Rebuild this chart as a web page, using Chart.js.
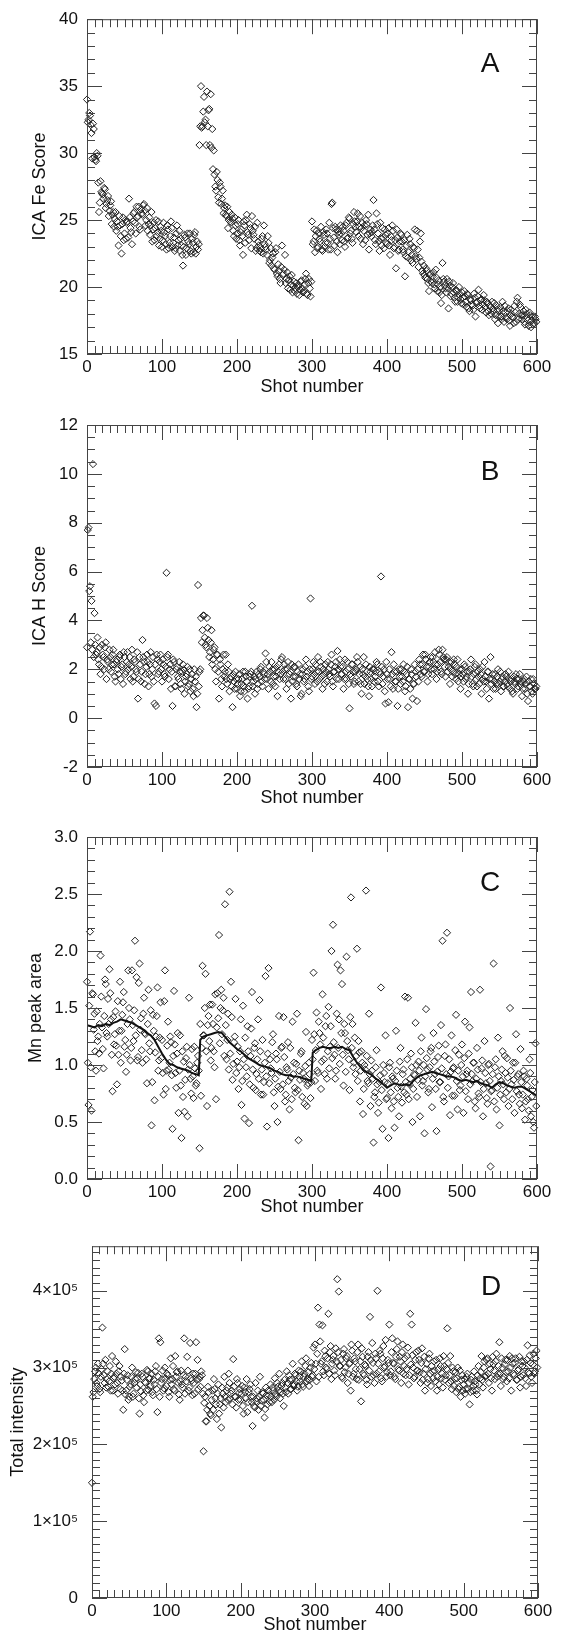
<!DOCTYPE html>
<html>
<head>
<meta charset="utf-8">
<script src="https://cdn.jsdelivr.net/npm/chart.js@4"></script>
<style>
  body { margin: 0; background: #fff; width: 563px; height: 1638px; position: relative; }
  canvas { position: absolute; left: 0; }
</style>
</head>
<body>
<canvas id="panelA" width="563" height="405" style="top:0px"></canvas>
<canvas id="panelB" width="563" height="410" style="top:405px"></canvas>
<canvas id="panelC" width="563" height="407" style="top:815px"></canvas>
<canvas id="panelD" width="563" height="416" style="top:1222px"></canvas>
<script>
// shot numbers: even shots and odd shots
const shotsEven = Array.from({ length: 300 }, (_, i) => i * 2);
const shotsOdd = Array.from({ length: 300 }, (_, i) => i * 2 + 1);
const shotTicks = [0, 100, 200, 300, 400, 500, 600];

// A: ICA Fe score
const feScore = [
  34.0, 32.5, 32.8, 31.5, 32.2, 29.7, 29.4, 29.8, 25.6, 27.9,
  27.0, 26.6, 27.3, 26.2, 26.8, 25.7, 26.4, 25.4, 24.5, 25.6,
  24.9, 23.1, 24.6, 22.5, 25.2, 24.0, 23.6, 24.9, 26.6, 24.4,
  23.2, 25.5, 24.8, 26.0, 25.3, 24.5, 25.8, 25.4, 26.2, 24.6,
  25.9, 24.7, 23.9, 25.6, 24.3, 23.5, 25.0, 24.1, 23.1, 24.5,
  23.0, 24.8, 23.8, 22.8, 24.3, 23.3, 24.9, 23.0, 23.7, 22.9,
  24.6, 23.5, 22.7, 23.1, 21.6, 23.9, 22.4, 24.0, 23.2, 22.7,
  23.6, 22.6, 24.1, 23.0, 22.8, 30.6, 35.0, 32.0, 34.2, 32.5,
  34.6, 33.2, 30.6, 30.4, 28.8, 28.4, 27.2, 28.0, 26.3, 27.5,
  26.6, 25.5, 26.1, 25.3, 24.4, 25.6, 24.8, 25.1, 23.8, 24.6,
  24.0, 25.0, 23.1, 24.3, 22.4, 24.6, 25.0, 24.1, 23.5, 24.4,
  25.3, 23.9, 24.5, 22.9, 23.4, 22.7, 22.6, 23.8, 24.6, 23.0,
  22.4, 23.3, 22.0, 21.6, 22.5, 21.3, 22.9, 20.8, 21.2, 20.3,
  23.1, 21.0, 22.4, 20.6, 19.9, 20.8, 20.2, 19.6, 20.4, 19.9,
  19.5, 20.1, 19.8, 20.5, 19.6, 20.2, 21.0, 19.4, 20.6, 19.3,
  24.9, 23.4, 22.6, 24.2, 23.0, 23.6, 24.5, 22.7, 23.9, 23.3,
  24.0, 22.8, 23.6, 26.2, 24.4, 23.1, 24.3, 22.6, 23.9, 24.6,
  23.5, 24.2, 23.0, 24.8, 23.7, 25.1, 24.2, 23.3, 25.6, 24.5,
  24.9, 23.8, 25.3, 24.4, 23.2, 24.6, 25.0, 23.9, 22.8, 24.3,
  24.1, 26.5, 23.5, 25.5, 24.0, 22.7, 23.6, 24.4, 22.9, 23.9,
  23.2, 24.4, 22.4, 23.5, 24.2, 23.0, 21.4, 23.7, 22.8, 24.0,
  23.4, 22.6, 20.8, 23.1, 22.2, 23.6, 22.0, 21.8, 22.9, 22.3,
  24.2, 21.5, 23.4, 21.9, 21.0, 20.9, 21.4, 20.6, 19.7, 21.0,
  20.3, 21.1, 19.9, 20.7, 20.2, 19.6, 18.8, 21.8, 20.4, 19.9,
  20.6, 18.4, 20.1, 19.5, 20.3, 19.2, 19.8, 18.9, 20.0, 19.1,
  19.6, 18.7, 19.3, 18.5, 19.4, 18.2, 19.0, 18.6, 19.5, 17.8,
  18.9, 19.8, 18.4, 19.1, 18.7, 19.0, 18.1, 18.8, 17.9, 18.5,
  18.9, 18.2, 17.6, 18.6, 17.3, 18.3, 17.8, 18.9, 17.4, 18.1,
  17.6, 18.4, 17.1, 18.0, 17.7, 18.6, 17.4, 19.2, 18.0, 18.5,
  17.6, 18.2, 17.2, 18.0, 17.5, 18.1, 17.0, 17.8, 17.3, 17.6
];
const feScoreOdd = [
  32.3, 33.0, 32.1, 29.6, 31.8, 29.5, 30.0, 27.8, 26.3, 27.1,
  26.9, 27.4, 25.9, 26.5, 25.3, 26.1, 24.7, 25.6, 25.1, 24.2,
  24.5, 25.3, 23.8, 24.7, 23.5, 25.0, 24.8, 23.7, 25.2, 24.1,
  24.9, 25.6, 24.0, 25.2, 26.0, 24.3, 25.5, 26.1, 25.7, 25.0,
  24.2, 25.2, 24.6, 23.4, 24.8, 24.4, 23.8, 24.9, 23.6, 24.2,
  23.5, 24.1, 23.2, 24.6, 22.9, 23.8, 24.4, 23.3, 22.7, 24.0,
  23.1, 24.2, 23.6, 22.4, 23.0, 23.7, 22.9, 23.4, 24.0, 22.5,
  23.3, 23.9, 22.5, 23.4, 23.2, 32.0, 31.9, 33.1, 32.3, 30.6,
  32.0, 33.3, 34.4, 31.8, 30.2, 27.5, 28.6, 26.7, 27.8, 26.2,
  27.2, 25.9, 25.4, 26.0, 25.0, 24.9, 25.4, 24.2, 25.2, 23.6,
  24.7, 23.5, 24.1, 23.8, 24.9, 23.3, 25.4, 23.9, 24.7, 22.9,
  24.2, 23.6, 22.7, 24.8, 23.1, 22.9, 23.6, 22.5, 23.2, 22.8,
  23.8, 21.8, 22.9, 22.2, 21.4, 22.6, 21.0, 21.7, 20.6, 21.5,
  20.9, 21.3, 20.3, 21.1, 20.5, 19.8, 20.9, 20.1, 19.7, 20.3,
  20.0, 19.4, 20.4, 19.9, 19.7, 20.6, 19.5, 20.3, 19.9, 20.4,
  23.2, 24.3, 23.8, 22.9, 24.0, 23.4, 22.8, 24.1, 23.0, 24.3,
  23.3, 24.8, 22.8, 26.3, 23.7, 24.5, 23.4, 24.1, 23.2, 24.0,
  24.5, 23.4, 24.6, 23.6, 25.2, 24.0, 23.6, 24.7, 24.9, 24.1,
  25.5, 24.5, 23.6, 24.8, 24.2, 23.5, 24.7, 25.4, 24.0, 23.8,
  24.6, 24.3, 23.2, 24.7, 23.4, 24.8, 23.1, 23.7, 24.3, 23.3,
  24.0, 23.1, 23.8, 24.6, 22.9, 23.5, 24.3, 22.7, 23.4, 23.9,
  22.8, 23.5, 22.3, 23.9, 22.6, 23.2, 22.4, 23.0, 24.3, 22.1,
  22.8, 22.2, 24.0, 21.2, 21.6, 20.7, 21.2, 20.3, 20.9, 20.4,
  20.8, 20.2, 21.3, 19.7, 20.5, 20.0, 19.4, 20.6, 20.1, 19.6,
  19.9, 20.4, 19.3, 20.0, 19.6, 18.9, 19.7, 19.2, 19.4, 18.8,
  19.2, 19.7, 18.9, 19.5, 18.4, 19.1, 18.7, 18.3, 19.2, 18.8,
  19.3, 18.6, 19.0, 18.3, 19.4, 18.5, 18.9, 18.2, 18.6, 18.0,
  18.4, 18.8, 17.9, 18.3, 17.8, 18.5, 17.6, 18.2, 18.6, 17.7,
  18.2, 17.5, 18.3, 17.8, 17.3, 18.1, 18.9, 17.6, 18.7, 17.9,
  17.9, 17.4, 18.3, 17.7, 17.1, 17.9, 17.5, 17.2, 17.8, 17.4
];

// B: ICA H score
const hScore = [
  2.9, 7.8, 5.4, 4.8, 10.4, 4.3, 2.6, 3.3, 2.2, 1.8,
  3.0, 2.5, 2.9, 1.6, 2.3, 2.8, 1.9, 2.6, 2.2, 1.5,
  2.4, 1.8, 2.6, 2.1, 1.4, 2.5, 1.9, 2.7, 2.2, 1.6,
  2.8, 1.7, 2.3, 1.9, 0.8, 2.5, 1.5, 3.2, 2.3, 1.8,
  2.6, 1.3, 2.2, 1.7, 2.5, 0.6, 0.5, 2.4, 1.9, 2.6,
  1.5, 2.2, 1.7, 5.95, 2.6, 2.0, 1.2, 0.5, 2.3, 1.3,
  2.1, 1.6, 1.9, 1.2, 2.2, 1.0, 1.7, 2.1, 1.4, 1.1,
  1.8, 0.9, 1.5, 0.45, 5.45, 1.9, 4.1, 3.6, 4.2, 3.0,
  4.1, 3.2, 2.7, 3.6, 2.4, 2.9, 1.5, 2.6, 0.8, 2.2,
  1.3, 2.6, 1.9, 1.6, 2.2, 1.1, 1.7, 0.45, 1.5, 1.9,
  1.2, 1.6, 0.9, 1.4, 1.9, 1.1, 1.7, 0.8, 1.3, 1.8,
  4.6, 1.5, 1.0, 1.9, 1.4, 1.7, 2.1, 1.3, 1.8, 2.65,
  1.6, 1.2, 1.9, 2.3, 1.4, 2.0, 1.7, 0.9, 2.2, 1.8,
  2.5, 1.6, 2.0, 1.2, 2.3, 1.8, 0.8, 1.5, 2.1, 1.7,
  1.3, 2.2, 1.8, 1.0, 2.0, 1.6, 2.4, 1.9, 1.1, 4.9,
  1.7, 2.3, 1.4, 1.9, 2.5, 1.6, 2.1, 1.2, 1.8, 2.2,
  1.5, 2.0, 1.7, 2.6, 1.3, 1.9, 2.3, 2.75, 1.6, 2.1,
  1.8, 1.2, 2.4, 1.6, 2.0, 0.4, 1.7, 2.2, 1.4, 1.9,
  2.5, 1.5, 2.1, 1.0, 1.8, 1.4, 2.2, 1.6, 0.9, 1.9,
  1.3, 2.0, 1.7, 2.3, 1.5, 1.9, 5.8, 1.4, 2.0, 0.6,
  1.8, 0.65, 1.6, 2.7, 1.2, 1.9, 1.5, 0.5, 2.0, 1.4,
  1.7, 2.2, 1.1, 1.8, 0.45, 1.6, 2.0, 0.8, 1.4, 1.9,
  0.7, 1.5, 2.2, 1.7, 2.6, 1.9, 2.4, 1.5, 2.1, 2.5,
  1.8, 2.3, 2.7, 1.6, 2.2, 2.6, 1.9, 2.8, 2.4, 1.7,
  2.5, 2.1, 1.4, 2.3, 1.9, 2.2, 1.6, 2.4, 1.8, 1.2,
  2.0, 1.5, 2.1, 1.7, 1.0, 1.9, 2.4, 1.4, 1.8, 2.2,
  1.3, 1.7, 2.0, 1.0, 1.6, 2.3, 1.5, 1.9, 0.8, 2.5,
  1.6, 1.2, 1.8, 1.4, 2.0, 1.5, 1.1, 1.7, 1.3, 1.8,
  1.4, 1.9, 1.2, 1.6, 1.0, 1.5, 1.8, 1.2, 1.6, 1.4,
  0.9, 1.5, 1.2, 1.7, 0.7, 1.3, 1.6, 1.0, 1.4, 1.2
];
const hScoreOdd = [
  7.7, 5.2, 3.1, 2.8, 2.5, 3.0, 2.7, 2.4, 2.9, 2.1,
  2.6, 2.0, 3.1, 2.4, 2.0, 2.5, 2.2, 2.8, 1.7, 2.3,
  2.0, 2.5, 1.6, 2.2, 2.7, 1.8, 2.3, 2.0, 2.5, 2.1,
  1.5, 2.4, 2.0, 2.7, 1.6, 2.2, 1.9, 2.5, 1.4, 2.1,
  2.3, 1.8, 2.7, 2.0, 1.5, 2.2, 2.6, 1.8, 2.3, 2.0,
  2.4, 1.8, 2.1, 2.5, 1.6, 2.2, 1.9, 2.4, 1.3, 2.0,
  1.7, 2.3, 1.4, 1.9, 2.0, 1.5, 1.8, 1.3, 2.0, 1.6,
  1.2, 2.0, 1.7, 1.0, 1.3, 2.0, 3.1, 4.2, 3.3, 2.9,
  3.7, 2.5, 3.1, 2.2, 2.8, 2.0, 2.6, 1.9, 2.4, 1.6,
  2.0, 1.7, 2.6, 1.4, 1.9, 1.6, 1.3, 1.8, 1.2, 1.6,
  1.4, 1.8, 1.1, 1.6, 1.3, 1.9, 1.5, 1.2, 1.7, 1.9,
  1.3, 1.7, 1.6, 1.2, 1.8, 2.0, 1.5, 1.9, 1.6, 2.3,
  1.8, 2.1, 1.5, 2.0, 1.7, 1.3, 2.1, 1.9, 1.6, 2.4,
  1.9, 2.2, 1.6, 2.0, 1.4, 1.9, 2.2, 1.7, 2.1, 1.4,
  1.9, 1.6, 0.9, 1.8, 1.5, 2.1, 1.7, 1.3, 2.0, 1.6,
  2.0, 1.8, 2.2, 1.5, 1.9, 2.3, 1.7, 2.0, 1.4, 1.9,
  2.3, 1.8, 2.2, 1.5, 1.9, 2.1, 1.6, 2.0, 2.4, 1.8,
  2.1, 1.6, 1.9, 2.3, 1.4, 1.8, 2.2, 1.9, 1.5, 2.0,
  2.3, 1.8, 1.4, 2.0, 2.5, 1.7, 1.9, 1.3, 2.1, 1.6,
  2.0, 1.5, 1.9, 2.2, 1.3, 1.8, 2.1, 1.7, 1.1, 2.3,
  1.6, 2.0, 1.3, 1.8, 2.2, 1.5, 1.9, 1.2, 1.7, 2.0,
  1.5, 1.9, 1.3, 2.1, 1.6, 1.2, 1.8, 1.4, 2.2, 1.7,
  2.0, 2.4, 1.8, 2.2, 1.9, 2.6, 2.1, 1.8, 2.3, 2.0,
  2.5, 2.0, 2.2, 1.9, 2.8, 2.3, 1.8, 2.5, 2.1, 2.4,
  1.9, 2.3, 2.0, 1.7, 2.4, 1.8, 2.1, 1.5, 2.0, 1.7,
  1.8, 2.2, 1.6, 1.9, 1.4, 2.0, 1.7, 1.3, 2.1, 1.6,
  1.9, 1.4, 1.8, 2.1, 1.5, 1.7, 1.2, 1.9, 1.6, 1.4,
  1.8, 1.5, 1.2, 1.7, 1.4, 1.9, 1.6, 1.3, 1.5, 1.7,
  1.3, 1.6, 1.5, 1.1, 1.7, 1.4, 1.6, 1.3, 1.8, 1.5,
  1.2, 1.6, 1.4, 1.0, 1.5, 1.3, 1.1, 1.6, 1.2, 1.3
];

// C: Mn peak area, plus its running mean
const mnArea = [
  1.73, 0.65, 2.17, 0.60, 1.62, 1.45, 0.95, 1.21, 1.10, 1.96,
  1.33, 0.97, 1.75, 1.28, 1.58, 1.84, 1.40, 0.77, 1.18, 1.47,
  0.83, 1.09, 1.73, 1.30, 1.55, 1.16, 0.94, 1.36, 1.50, 1.04,
  1.83, 1.21, 2.09, 1.77, 1.07, 1.89, 1.41, 1.02, 1.59, 1.27,
  0.84, 1.66, 1.12, 0.47, 1.44, 0.69, 1.25, 1.68, 1.04, 1.55,
  1.22, 0.74, 1.83, 0.95, 1.38, 1.02, 1.20, 0.44, 1.65, 0.93,
  1.10, 0.58, 1.26, 0.36, 0.72, 0.59, 1.06, 0.55, 1.59, 0.88,
  1.14, 0.71, 0.97, 0.84, 1.08, 0.27, 0.73, 1.87, 1.26, 1.80,
  0.64, 1.43, 1.53, 1.15, 1.36, 0.98, 0.70, 1.63, 2.14, 1.50,
  1.27, 1.59, 2.41, 1.05, 1.45, 2.52, 1.73, 0.87, 1.20, 1.58,
  1.03, 0.79, 1.12, 0.65, 1.52, 0.53, 0.98, 1.34, 0.49, 1.08,
  1.64, 0.80, 1.19, 0.92, 1.40, 1.57, 0.74, 1.22, 0.85, 1.78,
  0.46, 1.85, 1.05, 0.93, 1.27, 0.64, 1.10, 0.50, 1.43, 0.79,
  1.16, 1.42, 0.68, 0.98, 1.20, 0.61, 0.89, 1.38, 1.02, 0.76,
  1.45, 0.34, 0.87, 1.12, 0.93, 0.66, 1.29, 0.82, 1.02, 0.71,
  1.22, 1.81, 0.86, 1.46, 0.93, 1.28, 0.79, 1.62, 1.05, 1.34,
  0.88, 1.51, 1.16, 2.00, 2.23, 1.09, 0.95, 1.88, 1.40, 1.83,
  1.71, 0.82, 1.28, 1.95, 1.13, 0.78, 2.47, 1.36, 1.02, 0.92,
  2.02, 1.21, 0.68, 1.12, 0.57, 1.00, 2.53, 0.86, 1.45, 0.64,
  0.95, 0.32, 0.76, 1.13, 0.58, 0.85, 1.68, 0.44, 0.93, 1.26,
  0.71, 0.36, 1.02, 0.62, 0.88, 0.45, 1.30, 0.80, 0.55, 1.15,
  0.67, 0.96, 1.60, 0.74, 1.59, 0.83, 1.10, 0.50, 0.92, 1.37,
  0.72, 1.03, 0.55, 1.24, 0.86, 0.40, 1.49, 0.96, 0.79, 1.12,
  0.63, 1.28, 0.92, 0.42, 1.07, 0.85, 1.35, 2.09, 0.68, 1.18,
  2.16, 0.90, 0.56, 1.26, 0.97, 0.73, 1.44, 0.61, 1.09, 0.82,
  1.18, 0.58, 1.38, 0.92, 0.70, 1.33, 1.64, 0.86, 1.02, 0.62,
  1.15, 0.75, 1.66, 0.97, 0.55, 1.21, 0.84, 0.66, 1.01, 0.11,
  0.78, 1.89, 0.98, 0.61, 1.24, 0.47, 0.86, 1.12, 0.70, 0.93,
  1.06, 0.64, 1.50, 0.83, 1.02, 0.58, 1.27, 0.90, 0.74, 1.14,
  0.62, 0.95, 0.52, 0.88, 0.70, 1.05, 0.55, 0.78, 0.45, 1.19
];
const mnAreaOdd = [
  1.02, 1.52, 0.98, 1.63, 1.31, 1.12, 1.47, 1.25, 1.36, 1.60,
  1.14, 1.43, 1.71, 1.25, 1.36, 1.63, 1.09, 1.42, 1.27, 1.17,
  1.56, 1.30, 1.02, 1.44, 1.64, 1.22, 1.09, 1.83, 1.40, 1.15,
  1.35, 1.48, 1.26, 1.04, 1.72, 1.31, 1.13, 1.45, 1.28, 1.05,
  1.36, 1.19, 1.48, 0.85, 1.30, 1.11, 1.43, 0.95, 1.24, 1.06,
  0.93, 1.56, 0.79, 1.17, 0.96, 1.25, 0.91, 1.08, 1.18, 0.80,
  1.28, 0.95, 0.82, 1.12, 1.03, 0.87, 1.16, 0.96, 1.00, 0.75,
  0.90, 1.16, 0.82, 1.02, 0.95, 1.36, 1.15, 1.26, 1.50, 1.12,
  1.35, 1.21, 1.04, 1.53, 1.12, 1.62, 1.33, 1.41, 1.19, 1.66,
  1.48, 1.08, 1.35, 1.22, 0.96, 1.10, 1.42, 1.01, 1.25, 0.93,
  1.16, 0.98, 1.40, 0.86, 1.05, 1.24, 0.90, 1.12, 0.83, 1.32,
  0.96, 1.15, 0.78, 1.05, 0.88, 1.12, 0.96, 0.74, 1.02, 0.90,
  1.10, 0.84, 0.97, 1.20, 0.76, 0.88, 1.05, 0.81, 0.94, 1.15,
  0.83, 1.07, 0.74, 0.96, 0.86, 1.15, 0.70, 0.92, 0.80, 1.01,
  0.78, 0.95, 1.10, 0.72, 0.88, 0.99, 0.64, 0.84, 0.92, 0.85,
  1.05, 1.27, 1.13, 0.95, 1.38, 1.18, 1.03, 1.24, 0.92, 1.43,
  1.12, 0.97, 1.34, 1.06, 1.20, 0.88, 1.45, 1.15, 1.01, 1.28,
  1.09, 1.36, 0.94, 1.21, 1.05, 1.42, 1.15, 0.98, 1.24, 1.08,
  0.86, 1.11, 0.95, 1.02, 0.79, 0.96, 1.08, 0.84, 0.92, 1.04,
  0.88, 0.72, 0.98, 0.83, 0.67, 0.91, 0.78, 1.00, 0.85, 0.70,
  0.84, 0.98, 0.76, 0.90, 0.68, 0.86, 0.95, 0.72, 1.03, 0.81,
  0.92, 0.76, 0.85, 1.05, 0.70, 0.88, 0.98, 0.79, 0.91, 1.00,
  0.87, 0.95, 1.12, 0.82, 1.00, 0.90, 1.06, 0.76, 0.98, 1.15,
  0.88, 1.03, 0.79, 0.94, 1.17, 0.85, 0.97, 0.72, 1.08, 0.92,
  0.80, 1.05, 0.94, 0.73, 0.98, 1.13, 0.86, 0.95, 0.78, 1.00,
  0.90, 1.06, 0.77, 0.95, 1.10, 0.83, 0.92, 1.02, 0.68, 0.88,
  0.96, 0.72, 0.85, 1.04, 0.79, 0.93, 0.71, 1.00, 0.86, 0.77,
  0.92, 0.68, 1.05, 0.80, 0.90, 0.74, 0.96, 0.83, 1.08, 0.76,
  0.89, 0.79, 0.95, 0.70, 0.87, 1.02, 0.77, 0.92, 0.66, 0.85,
  0.74, 0.90, 0.68, 0.82, 0.60, 0.93, 0.72, 0.50, 0.85, 0.64
];
const meanShots = [0, 5, 10, 15, 20, 25, 30, 35, 40, 45, 50, 55, 60, 65, 70, 75, 80, 85, 90, 95,
  100, 105, 110, 115, 120, 125, 130, 135, 140, 145, 149, 151, 155, 160, 165, 170, 175, 180, 185, 190, 195,
  200, 205, 210, 215, 220, 225, 230, 235, 240, 245, 250, 255, 260, 265, 270, 275, 280, 285, 290, 295, 299,
  301, 305, 310, 315, 320, 325, 330, 335, 340, 345, 350, 355, 360, 365, 370, 375, 380, 385, 390, 395,
  400, 405, 410, 415, 420, 425, 430, 435, 440, 445, 450, 455, 460, 465, 470, 475, 480, 485, 490, 495,
  500, 505, 510, 515, 520, 525, 530, 535, 540, 545, 550, 555, 560, 565, 570, 575, 580, 585, 590, 595, 600];
const mnMean = [1.35, 1.34, 1.33, 1.35, 1.34, 1.36, 1.35, 1.37, 1.38, 1.40, 1.39, 1.38, 1.37, 1.35, 1.33, 1.31, 1.28, 1.26, 1.22, 1.16,
  1.10, 1.05, 1.01, 1.00, 0.98, 0.97, 0.96, 0.95, 0.93, 0.92, 0.91, 1.22, 1.25, 1.26, 1.27, 1.28, 1.29, 1.28, 1.24, 1.20, 1.17,
  1.14, 1.12, 1.09, 1.06, 1.04, 1.02, 1.00, 0.99, 0.98, 0.97, 0.95, 0.94, 0.92, 0.91, 0.91, 0.90, 0.90, 0.89, 0.88, 0.87, 0.86,
  1.11, 1.13, 1.15, 1.16, 1.15, 1.15, 1.16, 1.15, 1.16, 1.14, 1.13, 1.07, 1.02, 0.98, 0.95, 0.93, 0.91, 0.88, 0.86, 0.83,
  0.80, 0.82, 0.84, 0.83, 0.82, 0.83, 0.82, 0.86, 0.89, 0.91, 0.92, 0.93, 0.94, 0.93, 0.92, 0.91, 0.90, 0.90, 0.89, 0.87,
  0.86, 0.87, 0.86, 0.85, 0.86, 0.84, 0.83, 0.82, 0.80, 0.83, 0.85, 0.84, 0.82, 0.81, 0.80, 0.81, 0.81, 0.79, 0.77, 0.75, 0.73];

// D: total intensity, in units of 1e5
const totalE5 = [
  1.50, 2.68, 2.95, 2.80, 3.05, 2.72, 2.88, 3.52, 2.90, 3.10,
  2.85, 2.75, 3.02, 2.92, 2.70, 2.88, 3.08, 2.80, 2.95, 2.72,
  2.83, 2.45, 3.24, 2.70, 2.90, 2.62, 2.78, 3.00, 2.66, 2.85,
  2.74, 2.93, 2.40, 2.69, 2.88, 2.55, 2.80, 2.97, 2.71, 2.86,
  2.92, 2.64, 2.78, 3.02, 2.42, 3.38, 3.33, 2.85, 2.70, 3.00,
  2.76, 2.90, 2.62, 3.12, 2.85, 2.72, 3.15, 2.94, 2.80, 2.58,
  2.96, 2.74, 3.38, 2.88, 3.14, 2.70, 3.32, 2.83, 2.92, 2.66,
  3.33, 3.10, 2.85, 2.75, 2.90, 1.91, 2.62, 2.30, 2.75, 2.50,
  2.38, 2.70, 2.85, 2.60, 2.33, 2.78, 2.52, 2.22, 2.66, 2.88,
  2.55, 2.74, 2.92, 2.60, 2.70, 3.11, 2.62, 2.48, 2.80, 2.67,
  2.58, 2.76, 2.40, 2.68, 2.85, 2.55, 2.72, 2.62, 2.24, 2.50,
  2.80, 2.60, 2.45, 2.88, 2.57, 2.66, 2.35, 2.74, 2.52, 2.64,
  2.78, 2.55, 2.70, 2.86, 2.62, 2.75, 2.92, 2.68, 2.80, 2.50,
  2.74, 2.95, 2.66, 2.84, 2.72, 3.05, 2.78, 2.90, 2.70, 2.96,
  2.82, 3.08, 2.75, 2.92, 3.12, 2.85, 2.76, 3.00, 2.88, 3.26,
  3.30, 2.82, 3.78, 3.56, 3.05, 3.55, 2.90, 3.15, 2.98, 3.70,
  3.20, 2.85, 3.10, 2.96, 3.25, 4.15, 3.99, 3.02, 2.88, 3.18,
  2.94, 3.12, 2.80, 3.05, 2.70, 3.22, 2.92, 3.08, 2.85, 3.30,
  2.98, 2.56, 3.14, 2.90, 3.02, 2.78, 3.20, 3.66, 2.88, 3.06,
  2.80, 3.12, 4.00, 2.95, 3.18, 2.82, 3.28, 3.02, 2.88, 3.10,
  3.56, 2.95, 3.38, 3.05, 2.85, 3.24, 2.98, 3.14, 2.80, 3.30,
  3.02, 2.90, 3.15, 2.78, 3.70, 3.56, 3.00, 2.88, 3.20, 2.96,
  3.10, 2.80, 3.25, 2.92, 2.70, 3.05, 2.85, 3.18, 2.76, 2.95,
  3.08, 2.82, 2.70, 2.98, 3.12, 2.86, 2.74, 3.02, 2.90, 3.51,
  2.80, 3.15, 2.72, 2.95, 2.85, 2.68, 3.00, 2.75, 2.62, 2.90,
  2.78, 2.66, 2.88, 2.72, 2.52, 2.84, 2.70, 2.95, 2.78, 2.65,
  3.02, 2.86, 3.15, 2.74, 3.08, 2.90, 3.12, 2.80, 2.98, 2.70,
  3.05, 2.85, 3.18, 2.92, 3.33, 2.76, 3.00, 2.88, 3.10, 2.82,
  2.95, 3.15, 2.70, 3.05, 2.90, 3.12, 2.84, 2.98, 2.74, 3.08,
  2.90, 3.00, 2.76, 3.29, 2.92, 3.06, 2.80, 3.18, 2.95, 3.22
];
const totalE5Odd = [
  2.62, 2.85, 3.00, 2.76, 2.92, 2.68, 2.98, 3.05, 2.80, 2.74,
  2.95, 2.82, 2.70, 3.15, 2.86, 2.78, 2.92, 2.66, 3.02, 2.88,
  2.70, 2.92, 2.65, 2.84, 2.58, 2.75, 2.88, 2.62, 2.80, 2.94,
  2.86, 2.60, 2.78, 2.92, 2.64, 2.81, 2.70, 2.95, 2.86, 2.76,
  2.68, 2.84, 2.95, 2.72, 2.88, 2.62, 2.80, 2.96, 2.73, 2.86,
  2.92, 2.68, 2.84, 2.78, 3.02, 2.70, 2.88, 2.95, 2.65, 2.82,
  2.78, 2.90, 2.66, 2.82, 2.96, 2.74, 2.86, 2.64, 2.80, 2.92,
  2.84, 2.72, 2.88, 2.95, 2.66, 2.54, 2.30, 2.45, 2.68, 2.40,
  2.58, 2.45, 2.72, 2.52, 2.66, 2.40, 2.60, 2.74, 2.48, 2.62,
  2.70, 2.58, 2.80, 2.66, 2.52, 2.75, 2.62, 2.85, 2.58, 2.72,
  2.66, 2.50, 2.74, 2.60, 2.42, 2.68, 2.78, 2.55, 2.62, 2.48,
  2.56, 2.70, 2.62, 2.50, 2.68, 2.58, 2.46, 2.64, 2.70, 2.55,
  2.62, 2.74, 2.58, 2.66, 2.80, 2.70, 2.60, 2.76, 2.66, 2.84,
  2.68, 2.80, 2.90, 2.72, 2.84, 2.76, 2.92, 2.82, 2.75, 2.88,
  2.95, 2.78, 2.88, 3.02, 2.82, 2.94, 2.84, 3.06, 2.90, 2.98,
  3.05, 3.18, 2.88, 3.34, 3.08, 2.95, 3.22, 3.00, 3.12, 2.92,
  3.28, 3.05, 3.15, 2.90, 3.08, 3.20, 3.02, 3.10, 2.86, 3.24,
  3.00, 3.15, 2.92, 3.06, 3.30, 2.88, 3.12, 2.98, 3.20, 2.84,
  3.08, 3.25, 2.92, 3.04, 2.84, 3.14, 2.96, 3.10, 3.32, 2.90,
  3.18, 2.92, 3.05, 3.22, 2.86, 3.12, 3.00, 3.36, 2.94, 3.06,
  2.90, 3.20, 3.06, 2.88, 3.14, 3.34, 2.96, 3.08, 3.20, 2.92,
  3.12, 2.98, 3.26, 2.90, 3.04, 3.16, 2.86, 3.10, 2.96, 3.22,
  2.94, 3.06, 2.84, 3.14, 2.98, 2.80, 3.12, 2.92, 3.02, 2.86,
  2.96, 3.10, 2.88, 2.78, 3.02, 2.92, 3.15, 2.84, 2.98, 3.06,
  2.90, 2.82, 3.00, 2.76, 2.94, 2.86, 2.72, 2.96, 2.84, 2.70,
  2.85, 2.72, 2.92, 2.80, 2.68, 2.88, 2.76, 2.82, 2.70, 2.90,
  2.78, 2.94, 2.84, 3.00, 2.88, 3.10, 2.92, 3.05, 2.86, 3.14,
  2.96, 3.08, 2.88, 3.02, 2.92, 3.12, 2.85, 3.04, 2.94, 3.10,
  2.86, 3.00, 3.12, 2.92, 3.06, 2.84, 2.96, 3.14, 2.88, 3.02,
  3.08, 2.86, 3.10, 2.94, 3.16, 2.88, 3.04, 2.92, 3.12, 3.00
];

const ticksA = [15, 20, 25, 30, 35, 40];
const ticksB = [-2, 0, 2, 4, 6, 8, 10, 12];
const ticksC = [0, 0.5, 1, 1.5, 2, 2.5, 3];
const ticksD = [0, 1e5, 2e5, 3e5, 4e5];

const FONT = '"Liberation Sans", Arial, Helvetica, sans-serif';
Chart.defaults.font.family = FONT;
Chart.defaults.font.size = 17;
Chart.defaults.color = '#111';

// IDL style frame: box, inward ticks on all four sides, panel letter
const idlFrame = {
  id: 'idlFrame',
  afterDatasetsDraw(chart, args, o) {
    const { ctx, chartArea: a, scales: { x, y } } = chart;
    ctx.save();
    ctx.strokeStyle = '#444';
    ctx.lineWidth = 1;
    ctx.strokeRect(a.left + 0.5, a.top + 0.5, a.right - a.left - 1, a.bottom - a.top - 1);
    ctx.beginPath();
    for (let i = 0; x.min + i * o.xMinor <= x.max + 1e-9; i++) {
      const px = Math.round(x.getPixelForValue(x.min + i * o.xMinor)) + 0.5;
      const len = i % o.xEvery === 0 ? 15 : 8;
      ctx.moveTo(px, a.bottom); ctx.lineTo(px, a.bottom - len);
      ctx.moveTo(px, a.top); ctx.lineTo(px, a.top + len);
    }
    for (let i = 0; y.min + i * o.yMinor <= y.max + 1e-9; i++) {
      const py = Math.round(y.getPixelForValue(y.min + i * o.yMinor)) + 0.5;
      const len = i % o.yEvery === 0 ? 15 : 8;
      ctx.moveTo(a.left, py); ctx.lineTo(a.left + len, py);
      ctx.moveTo(a.right, py); ctx.lineTo(a.right - len, py);
    }
    ctx.stroke();
    ctx.font = '28px ' + FONT;
    ctx.fillStyle = '#111';
    ctx.textAlign = 'center';
    ctx.textBaseline = 'middle';
    ctx.fillText(o.letter, a.right - 47, a.top + o.letterDy);
    ctx.restore();
  }
};

function diamonds(xs, values, scale) {
  return {
    data: xs.map((s, i) => ({ x: s, y: values[i] * scale })),
    pointStyle: 'rectRot',
    pointRadius: 3.6,
    borderWidth: 1,
    borderColor: '#222',
    backgroundColor: 'rgba(0,0,0,0)',
    clip: false
  };
}

function makePanel(id, p) {
  new Chart(document.getElementById(id), {
    type: 'scatter',
    data: { datasets: p.datasets },
    options: {
      responsive: false,
      animation: false,
      events: [],
      layout: { padding: { top: p.padTop, right: p.padRight, left: 0, bottom: 0 } },
      plugins: {
        legend: { display: false },
        tooltip: { enabled: false },
        idlFrame: p.frame
      },
      scales: {
        x: {
          type: 'linear', min: 0, max: 600,
          grid: { display: false, drawTicks: false },
          border: { display: false },
          afterBuildTicks: s => { s.ticks = shotTicks.map(v => ({ value: v })); },
          afterFit: s => { s.height = p.xHeight; },
          ticks: { padding: 3, maxRotation: 0, autoSkip: false },
          title: { display: true, text: 'Shot number', font: { size: 18 }, padding: { top: 0, bottom: p.xTitlePad } }
        },
        y: {
          type: 'linear', min: p.yMin, max: p.yMax,
          grid: { display: false, drawTicks: false },
          border: { display: false },
          afterBuildTicks: s => { s.ticks = p.yTicks.map(v => ({ value: v })); },
          afterFit: s => { s.width = p.yWidth; },
          ticks: { padding: p.yTickPad, autoSkip: false, callback: p.yFormat },
          title: { display: true, text: p.yTitle, font: { size: 18 }, padding: { top: p.yTitlePad, bottom: 0 } }
        }
      }
    },
    plugins: [idlFrame]
  });
}

makePanel('panelA', {
  datasets: [diamonds(shotsEven, feScore, 1), diamonds(shotsOdd, feScoreOdd, 1)],
  padTop: 13, padRight: 26, xHeight: 51, xTitlePad: 7,
  yMin: 15, yMax: 40, yTicks: ticksA, yWidth: 87, yTickPad: 9,
  yTitle: 'ICA Fe Score', yTitlePad: 29, yFormat: v => String(v),
  frame: { letter: 'A', letterDy: 45, xMinor: 10, xEvery: 10, yMinor: 1, yEvery: 5 }
});

makePanel('panelB', {
  datasets: [diamonds(shotsEven, hScore, 1), diamonds(shotsOdd, hScoreOdd, 1)],
  padTop: 20, padRight: 26, xHeight: 48, xTitlePad: 6,
  yMin: -2, yMax: 12, yTicks: ticksB, yWidth: 87, yTickPad: 9,
  yTitle: 'ICA H Score', yTitlePad: 29, yFormat: v => String(v),
  frame: { letter: 'B', letterDy: 47, xMinor: 10, xEvery: 10, yMinor: 0.5, yEvery: 4 }
});

makePanel('panelC', {
  datasets: [
    {
      data: meanShots.map((s, i) => ({ x: s, y: mnMean[i] })),
      showLine: true, pointRadius: 0, borderWidth: 2, borderColor: '#111', tension: 0
    },
    diamonds(shotsEven, mnArea, 1),
    diamonds(shotsOdd, mnAreaOdd, 1)
  ],
  padTop: 22, padRight: 26, xHeight: 43, xTitlePad: 4,
  yMin: 0, yMax: 3, yTicks: ticksC, yWidth: 87, yTickPad: 9,
  yTitle: 'Mn peak area', yTitlePad: 25, yFormat: v => v.toFixed(1),
  frame: { letter: 'C', letterDy: 46, xMinor: 10, xEvery: 10, yMinor: 0.1, yEvery: 5 }
});

makePanel('panelD', {
  datasets: [diamonds(shotsEven, totalE5, 1e5), diamonds(shotsOdd, totalE5Odd, 1e5)],
  padTop: 21, padRight: 25, xHeight: 40, xTitlePad: 2,
  yMin: 0, yMax: 4.58e5, yTicks: ticksD, yWidth: 92, yTickPad: 14,
  yTitle: 'Total intensity', yTitlePad: 7,
  yFormat: v => v === 0 ? '0' : Math.round(v / 1e5) + '×10⁵',
  frame: { letter: 'D', letterDy: 41, xMinor: 10, xEvery: 10, yMinor: 1e4, yEvery: 10 }
});
</script>
</body>
</html>
